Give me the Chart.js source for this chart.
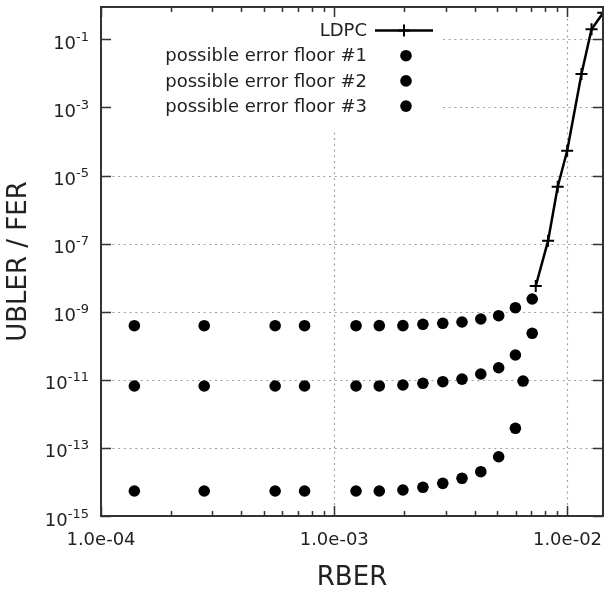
<!DOCTYPE html>
<html>
<head>
<meta charset="utf-8">
<script src="https://cdn.jsdelivr.net/npm/chart.js@4/dist/chart.umd.min.js"></script>
<style>
html,body{margin:0;padding:0;background:#fff;}
#wrap{width:607px;height:596px;}
</style>
</head>
<body>
<div id="wrap"><canvas id="c" width="607" height="596"></canvas></div>
<script>
// ---- data ----
const rber = [1.39e-4, 2.77e-4, 5.58e-4, 7.46e-4, 1.24e-3, 1.56e-3, 1.97e-3, 2.40e-3, 2.92e-3, 3.53e-3, 4.25e-3, 5.07e-3, 5.98e-3, 7.06e-3];
const floor1 = [3.88e-10, 3.88e-10, 3.88e-10, 3.88e-10, 3.88e-10, 3.9e-10, 3.9e-10, 4.27e-10, 4.56e-10, 4.99e-10, 6.1e-10, 7.63e-10, 1.31e-9, 2.36e-9];
const floor2 = [6.58e-12, 6.58e-12, 6.58e-12, 6.58e-12, 6.58e-12, 6.6e-12, 7.03e-12, 7.89e-12, 8.8e-12, 1.05e-11, 1.48e-11, 2.26e-11, 5.35e-11, 2.32e-10];
const rber3 = [1.39e-4, 2.77e-4, 5.58e-4, 7.46e-4, 1.24e-3, 1.56e-3, 1.97e-3, 2.40e-3, 2.92e-3, 3.53e-3, 4.25e-3, 5.07e-3, 5.98e-3, 6.45e-3];
const floor3 = [5.42e-15, 5.42e-15, 5.42e-15, 5.42e-15, 5.42e-15, 5.42e-15, 5.8e-15, 6.96e-15, 9.1e-15, 1.28e-14, 2.0e-14, 5.5e-14, 3.77e-13, 9.2e-12];
const ldpcRber = [7.31e-3, 8.26e-3, 9.08e-3, 9.97e-3, 1.148e-2, 1.268e-2, 1.423e-2];
const ldpcRate = [5.7e-9, 1.22e-7, 4.7e-6, 5.35e-5, 9.6e-3, 0.197, 0.60];

const seriesNames = ['LDPC', 'possible error floor #1', 'possible error floor #2', 'possible error floor #3'];
const xMajorTicks = [1e-4, 1e-3, 1e-2];
const xTickLabels = ['1.0e-04', '1.0e-03', '1.0e-02'];
const yTickExps = [-15, -13, -11, -9, -7, -5, -3, -1];
const yTickExpLabels = ['-15', '-13', '-11', '-9', '-7', '-5', '-3', '-1'];
const xTitle = 'RBER';
const yTitle = 'UBLER / FER';

const FONT = 'DejaVu Sans';
const X_MIN = 1e-4, X_MAX = 1.42e-2, Y_MIN = 1e-15, Y_MAX = 0.89;

const pts = (xs, ys) => xs.map((x, i) => ({x: x, y: ys[i]}));

const xMinorTicks = [];
xMajorTicks.forEach(d => { for (let k = 2; k <= 9; k++) { const v = k * d; if (v < X_MAX) xMinorTicks.push(v); } });

const decor = {
  id: 'decor',
  beforeDatasetsDraw(chart) {
    const ctx = chart.ctx, a = chart.chartArea, xs = chart.scales.x, ys = chart.scales.y;
    ctx.save();
    // dotted grid
    ctx.strokeStyle = '#a0a0a0';
    ctx.lineWidth = 1.2;
    ctx.setLineDash([2, 3.7]);
    yTickExps.forEach(e => {
      const py = Math.round(ys.getPixelForValue(Math.pow(10, e))) + 0.5;
      if (py >= a.bottom - 2) return;
      ctx.beginPath(); ctx.moveTo(a.left, py); ctx.lineTo(a.right, py); ctx.stroke();
    });
    xMajorTicks.forEach(v => {
      const px = Math.round(xs.getPixelForValue(v)) + 0.5;
      if (px <= a.left + 2) return;
      ctx.beginPath(); ctx.moveTo(px, a.top); ctx.lineTo(px, a.bottom); ctx.stroke();
    });
    ctx.setLineDash([]);
    // opaque key box
    ctx.fillStyle = '#fff';
    ctx.fillRect(a.left + 1, a.top + 9, 442 - a.left, 113);
    // inward tick marks
    ctx.strokeStyle = '#333';
    ctx.lineWidth = 1.5;
    yTickExps.forEach(e => {
      const py = Math.round(ys.getPixelForValue(Math.pow(10, e))) + 0.5;
      ctx.beginPath();
      ctx.moveTo(a.left, py); ctx.lineTo(a.left + 10, py);
      ctx.moveTo(a.right, py); ctx.lineTo(a.right - 10, py);
      ctx.stroke();
    });
    const tick = (v, len) => {
      const px = Math.round(xs.getPixelForValue(v)) + 0.5;
      ctx.beginPath();
      ctx.moveTo(px, a.bottom); ctx.lineTo(px, a.bottom - len);
      ctx.moveTo(px, a.top); ctx.lineTo(px, a.top + len);
      ctx.stroke();
    };
    xMajorTicks.forEach(v => tick(v, 10));
    xMinorTicks.forEach(v => tick(v, 5));
    ctx.restore();
  },
  afterDatasetsDraw(chart) {
    const ctx = chart.ctx, a = chart.chartArea, ys = chart.scales.y;
    ctx.save();
    // frame
    ctx.strokeStyle = '#333';
    ctx.lineWidth = 2;
    ctx.strokeRect(a.left, a.top, a.right - a.left, a.bottom - a.top);
    // y tick labels with superscript exponent
    ctx.fillStyle = '#222';
    const xr = 89;
    yTickExps.forEach((e, i) => {
      const py = ys.getPixelForValue(Math.pow(10, e));
      const ex = yTickExpLabels[i];
      ctx.font = '13px "' + FONT + '"';
      const ew = ctx.measureText(ex).width;
      ctx.textAlign = 'left'; ctx.textBaseline = 'alphabetic';
      ctx.fillText(ex, xr - ew, py + 1.5);
      ctx.font = '18px "' + FONT + '"';
      ctx.textAlign = 'right';
      ctx.fillText('10', xr - ew, py + 9.5);
    });
    // key
    const ds = chart.data.datasets;
    ctx.font = '18px "' + FONT + '"';
    ctx.textAlign = 'right'; ctx.textBaseline = 'middle';
    ds.forEach((d, i) => {
      const yy = 31.5 + i * 25.2;
      ctx.fillStyle = '#222';
      ctx.fillText(d.label, 367, yy);
      ctx.strokeStyle = '#000'; ctx.fillStyle = '#000';
      if (d.showLine) {
        ctx.lineWidth = 2.5;
        ctx.beginPath(); ctx.moveTo(375, yy - 1); ctx.lineTo(433, yy - 1); ctx.stroke();
        ctx.lineWidth = 2;
        ctx.beginPath(); ctx.moveTo(404, yy - 7); ctx.lineTo(404, yy + 5);
        ctx.moveTo(398, yy - 1); ctx.lineTo(410, yy - 1); ctx.stroke();
      } else {
        ctx.beginPath(); ctx.arc(406, yy - 1, 5.8, 0, Math.PI * 2); ctx.fill();
      }
    });
    ctx.restore();
  }
};

new Chart(document.getElementById('c'), {
  type: 'scatter',
  data: {
    datasets: [
      { label: seriesNames[0], data: pts(ldpcRber, ldpcRate), showLine: true, borderColor: '#000', backgroundColor: '#000',
        borderWidth: 2.5, pointStyle: 'cross', pointRadius: 6, pointBorderWidth: 2, pointBorderColor: '#000' },
      { label: seriesNames[1], data: pts(rber, floor1), showLine: false, backgroundColor: '#000', borderColor: '#000',
        pointRadius: 5.8, pointBorderWidth: 0 },
      { label: seriesNames[2], data: pts(rber, floor2), showLine: false, backgroundColor: '#000', borderColor: '#000',
        pointRadius: 5.8, pointBorderWidth: 0 },
      { label: seriesNames[3], data: pts(rber3, floor3), showLine: false, backgroundColor: '#000', borderColor: '#000',
        pointRadius: 5.8, pointBorderWidth: 0 }
    ]
  },
  options: {
    responsive: false,
    animation: false,
    devicePixelRatio: 1,
    layout: { autoPadding: false, padding: { top: 7, right: 4, left: 0, bottom: 0 } },
    plugins: { legend: { display: false }, tooltip: { enabled: false } },
    scales: {
      x: {
        type: 'logarithmic', min: X_MIN, max: X_MAX,
        grid: { display: false }, border: { display: false },
        afterBuildTicks: s => { s.ticks = xMajorTicks.map(v => ({ value: v })); },
        ticks: { autoSkip: false, maxRotation: 0, minRotation: 0, padding: 6, color: '#222',
          font: { family: FONT, size: 18 },
          callback: (v, i) => xTickLabels[i] },
        title: { display: true, text: xTitle, color: '#222', font: { family: FONT, size: 26 }, padding: { top: 0, bottom: 2 } },
        afterFit: s => { s.height = 80; s.paddingLeft = 0; s.paddingRight = 0; }
      },
      y: {
        type: 'logarithmic', min: Y_MIN, max: Y_MAX,
        grid: { display: false }, border: { display: false },
        afterBuildTicks: s => { s.ticks = yTickExps.map(e => ({ value: Math.pow(10, e) })); },
        ticks: { display: false },
        title: { display: true, text: yTitle, color: '#222', font: { family: FONT, size: 26 }, padding: { top: 4, bottom: 0 } },
        afterFit: s => { s.width = 101; s.paddingTop = 0; s.paddingBottom = 0; }
      }
    }
  },
  plugins: [decor]
});
</script>
</body>
</html>
